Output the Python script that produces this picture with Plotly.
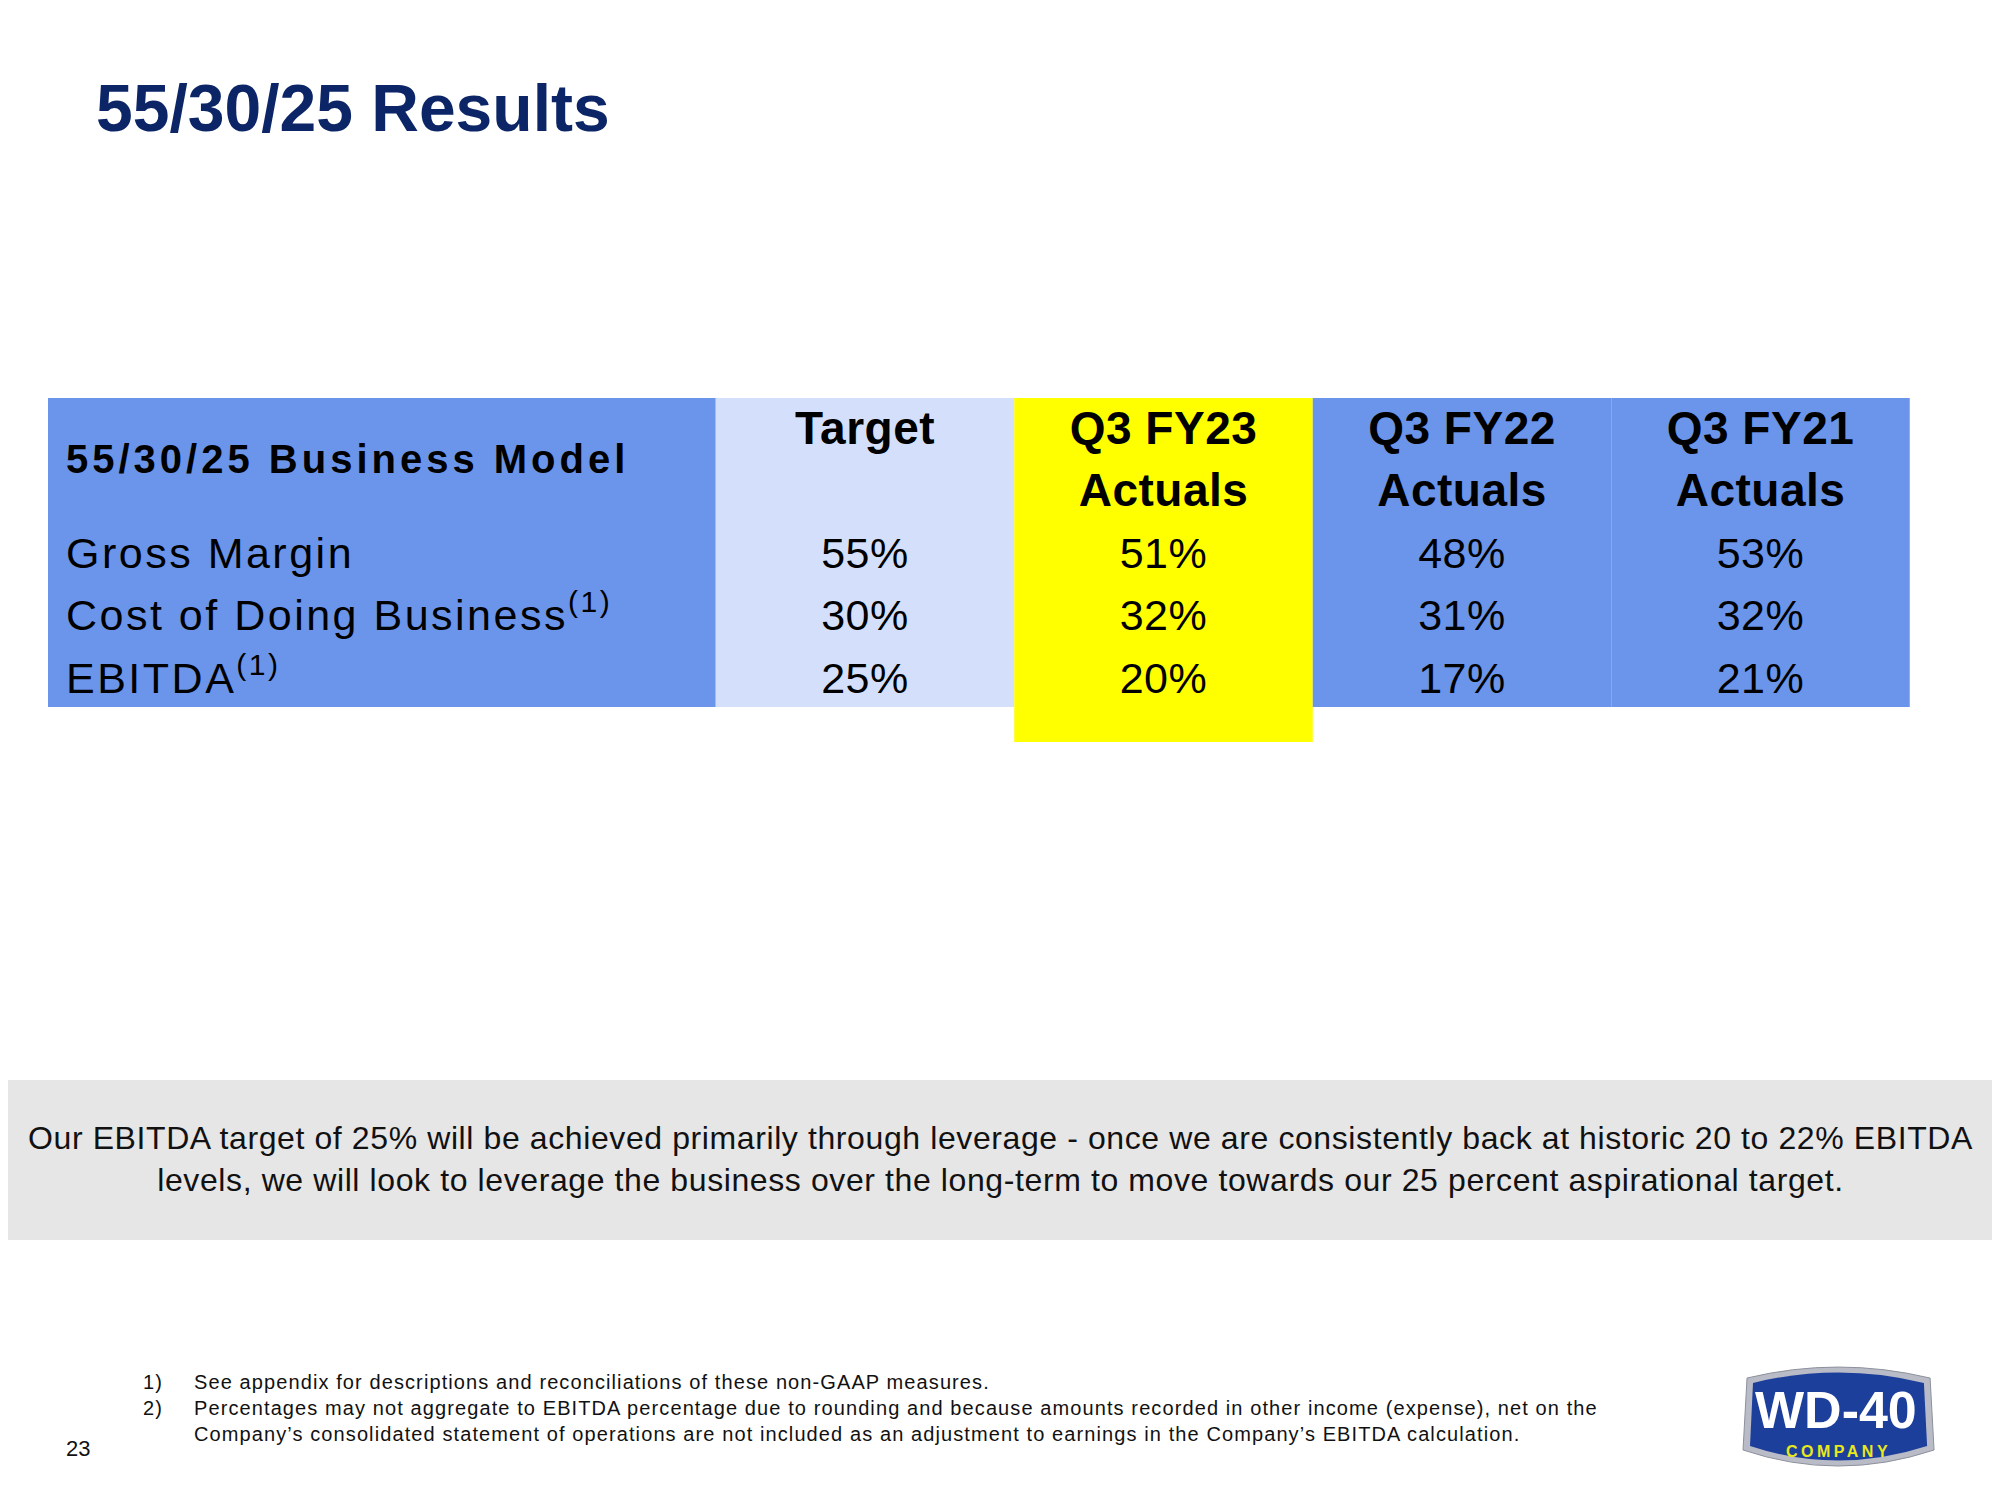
import plotly.graph_objects as go

# ---- data ----
title = "55/30/25 Results"
model_name = "55/30/25 Business Model"
col_head1 = ["Target", "Q3 FY23", "Q3 FY22", "Q3 FY21"]
col_head2 = ["", "Actuals", "Actuals", "Actuals"]
metrics = ["Gross Margin", "Cost of Doing Business<sup>(1)</sup>", "EBITDA<sup>(1)</sup>"]
target = [55, 30, 25]
q3_fy23 = [51, 32, 20]
q3_fy22 = [48, 31, 17]
q3_fy21 = [53, 32, 21]
note_lines = [
    "Our EBITDA target of 25% will be achieved primarily through leverage - once we are consistently back at historic 20 to 22% EBITDA",
    "levels, we will look to leverage the business over the long-term to move towards our 25 percent aspirational target.",
]
footnote_nums = ["1)", "2)"]
footnote_lines = [
    "See appendix for descriptions and reconciliations of these non-GAAP measures.",
    "Percentages may not aggregate to EBITDA percentage due to rounding and because amounts recorded in other income (expense), net on the",
    "Company\u2019s consolidated statement of operations are not included as an adjustment to earnings in the Company\u2019s EBITDA calculation.",
]
page_no = "23"

# ---- look ----
NAVY = "#0b2567"
BLUE = "#6b95ea"
LIGHT = "#d4e0fb"
YELLOW = "#ffff00"
col_fill = [LIGHT, YELLOW, BLUE, BLUE]
FONT = "Liberation Sans, Arial, sans-serif"

W, H = 2000, 1500
OFF = 8                          # the page body margin that the figure sits in
FW, FH = W - OFF, H - 2 * OFF
COL_PX, COL0_PX = 298.5, 865     # pixel width of a value column, centre of column 0
ROW_PX, ROW0_PX = 62.5, 432      # pixel pitch of a table row, centre of row 0


def sp(text, px):
    return "<span style='letter-spacing:%spx'>%s</span>" % (px, text)


def px_x(p):
    return (p - COL0_PX) / COL_PX


def px_y(p):
    return (p - ROW0_PX) / ROW_PX


def paper_x(p):
    return (p - OFF) / FW


def paper_y(p):
    return 1 - (p - OFF) / FH


fig = go.Figure()

cols = [target, q3_fy23, q3_fy22, q3_fy21]
n_rows = len(metrics)
row_y = [2 + i for i in range(n_rows)]

# column backgrounds
top, bottom, bottom_hl = px_y(398), px_y(707), px_y(742)
shapes = [dict(type="rect", xref="x", yref="y", layer="below", line_width=0,
               fillcolor=BLUE, x0=px_x(48), x1=-0.5, y0=top, y1=bottom)]
for i, c in enumerate(col_fill):
    shapes.append(dict(type="rect", xref="x", yref="y", layer="below", line_width=0,
                       fillcolor=c, x0=i - 0.5, x1=i + 0.5, y0=top,
                       y1=bottom_hl if c == YELLOW else bottom))

# header
head_font = dict(family=FONT, size=46, color="black", weight="bold")
fig.add_trace(go.Scatter(
    x=list(range(len(col_head1))), y=[0] * len(col_head1), mode="text",
    text=[sp(t, 0.5) for t in col_head1], textposition="middle center",
    textfont=head_font, hoverinfo="skip", showlegend=False))
fig.add_trace(go.Scatter(
    x=list(range(len(col_head2))), y=[1] * len(col_head2), mode="text",
    text=[sp(t, 0.5) for t in col_head2], textposition="middle center",
    textfont=head_font, hoverinfo="skip", showlegend=False))

# values
for i, vals in enumerate(cols):
    fig.add_trace(go.Scatter(
        x=[i] * len(vals), y=row_y, mode="text",
        text=[sp("%d%%" % v, 0.5) for v in vals], textposition="middle center",
        textfont=dict(family=FONT, size=43, color="black"),
        hoverinfo="skip", showlegend=False))

# row labels
fig.add_trace(go.Scatter(
    x=[px_x(66)], y=[0.5], mode="text", text=[sp(model_name, 4)],
    textposition="middle right",
    textfont=dict(family=FONT, size=40, color="black", weight="bold"),
    hoverinfo="skip", showlegend=False))
fig.add_trace(go.Scatter(
    x=[px_x(66)] * n_rows, y=row_y, mode="text", text=[sp(m, 2.5) for m in metrics],
    textposition="middle right",
    textfont=dict(family=FONT, size=43, color="black"),
    hoverinfo="skip", showlegend=False))

# footer band
shapes.append(dict(type="rect", xref="paper", yref="paper", layer="below", line_width=0,
                   fillcolor="#e6e6e6", x0=0, x1=1, y0=paper_y(1240), y1=paper_y(1080)))


# logo
def pp(x, y):
    return "%.4f,%.4f" % (paper_x(x), paper_y(y))


outer = ("M" + pp(1747, 1378) + " Q" + pp(1838, 1356) + " " + pp(1930, 1378) +
         " L" + pp(1934, 1450) + " Q" + pp(1838, 1482) + " " + pp(1743, 1450) + " Z")
inner = ("M" + pp(1753, 1383) + " Q" + pp(1838, 1362) + " " + pp(1924, 1383) +
         " L" + pp(1927, 1446) + " Q" + pp(1838, 1475) + " " + pp(1750, 1446) + " Z")
shapes.append(dict(type="path", xref="paper", yref="paper", path=outer,
                   fillcolor="#b9bcc6", line=dict(color="#8d919c", width=1)))
shapes.append(dict(type="path", xref="paper", yref="paper", path=inner,
                   fillcolor="#1d3f9c", line_width=0))

annotations = [
    dict(text=title, x=paper_x(94), y=paper_y(108), xanchor="left", yanchor="middle",
         font=dict(family=FONT, size=66, color=NAVY, weight="bold")),
    dict(text="<br>".join(sp(t, 0.6) for t in note_lines), x=paper_x(1000), y=paper_y(1159),
         xanchor="center", yanchor="middle", align="center",
         font=dict(family=FONT, size=32, color="#111111")),
    dict(text="<br>".join(sp(t, 1.1) for t in footnote_nums), x=paper_x(141), y=paper_y(1395),
         xanchor="left", yanchor="middle", align="left",
         font=dict(family=FONT, size=20, color="#111111")),
    dict(text="<br>".join(sp(t, 1.1) for t in footnote_lines), x=paper_x(192), y=paper_y(1408),
         xanchor="left", yanchor="middle", align="left",
         font=dict(family=FONT, size=20, color="#111111")),
    dict(text=page_no, x=paper_x(64), y=paper_y(1448), xanchor="left", yanchor="middle",
         font=dict(family=FONT, size=22, color="#111111")),
    dict(text="WD-40", x=paper_x(1836), y=paper_y(1410), xanchor="center", yanchor="middle",
         font=dict(family=FONT, size=52, color="white", weight="bold")),
    dict(text=sp("COMPANY", 3.5), x=paper_x(1838), y=paper_y(1451), xanchor="center", yanchor="middle",
         font=dict(family=FONT, size=16, color="#e8e81a", weight="bold")),
]
for a in annotations:
    a.update(xref="paper", yref="paper", showarrow=False)

fig.update_layout(
    width=FW, height=FH, margin=dict(l=0, r=0, t=0, b=0),
    paper_bgcolor="white", plot_bgcolor="white",
    xaxis=dict(range=[px_x(OFF), px_x(OFF + FW)], visible=False, fixedrange=True),
    yaxis=dict(range=[px_y(OFF + FH), px_y(OFF)], visible=False, fixedrange=True),
    shapes=shapes, annotations=annotations,
)

fig.write_html("out.html")
